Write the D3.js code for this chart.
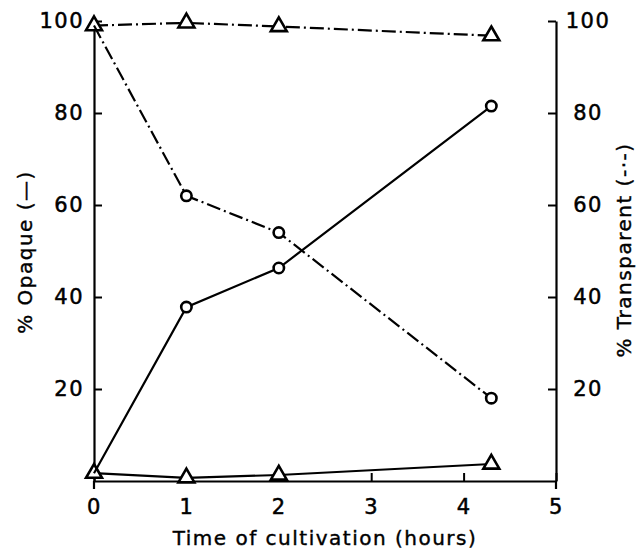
<!DOCTYPE html>
<html>
<head>
<meta charset="utf-8">
<script src="https://cdn.jsdelivr.net/npm/d3@7"></script>
<style>
  body { margin: 0; background: #fff; }
  text { font-family: "DejaVu Sans", sans-serif; fill: #000; }
</style>
</head>
<body>
<div id="content"></div>
<script>
// Data (time in hours, values in %).
var times = [0, 1, 2, 4.3];
var opaqueCircles = [1.7, 37.8, 46.3, 81.5];      // solid line, circles
var opaqueTriangles = [1.7, 0.7, 1.3, 3.7];      // solid line, triangles
var transpCircles = [99, 62, 54, 18];            // dash-dot line, circles
var transpTriangles = [99, 99.6, 98.8, 96.8];    // dash-dot line, triangles
var xTicks = [0, 1, 2, 3, 4, 5];
var yTicks = [20, 40, 60, 80, 100];

var width = 639, height = 550;
var svg = d3.select('#content')
              .append('svg')
              .attr('width', width)
              .attr('height', height);

var x = d3.scaleLinear().domain([0, 5]).range([94, 556]);
var y = d3.scaleLinear().domain([0, 100]).range([481, 21]);

// Axes, ticks pointing inward.
var gx = svg.append('g')
    .attr('transform', 'translate(0,' + y(0) + ')')
    .call(d3.axisBottom(x).tickValues(xTicks).tickSizeInner(-8)
              .tickSizeOuter(0).tickPadding(16).tickFormat(d3.format('d')));

var gl = svg.append('g')
    .attr('transform', 'translate(' + x(0) + ',0)')
    .call(d3.axisLeft(y).tickValues(yTicks).tickSizeInner(-8)
              .tickSizeOuter(0).tickPadding(10));

var gr = svg.append('g')
    .attr('transform', 'translate(' + x(5) + ',0)')
    .call(d3.axisRight(y).tickValues(yTicks).tickSizeInner(-8)
              .tickSizeOuter(0).tickPadding(10));
gr.selectAll('text').attr('text-anchor', 'middle').attr('x', 32);

[gx, gl, gr].forEach(function(g) {
  g.select('.domain').attr('stroke-width', 2.2);
  g.selectAll('.tick line').attr('stroke-width', 2);
  g.selectAll('text').attr('font-size', 21).attr('letter-spacing', 1.5)
      .attr('font-family', '"DejaVu Sans", sans-serif')
      .attr('stroke', '#000').attr('stroke-width', 0.5);
});
gx.selectAll('text').attr('dy', '0.8em');

// Short stubs below the x axis at both ends.
svg.append('path')
    .attr('d', 'M' + x(0) + ',' + y(0) + 'v8M' + x(5) + ',' + y(0) + 'v8')
    .attr('stroke', '#000').attr('stroke-width', 2.2);

var line = d3.line()
    .x(function(d) { return x(d[0]); })
    .y(function(d) { return y(d[1]); });

function series(vals, dashed, marker) {
  var pts = times.map(function(t, i) { return [t, vals[i]]; });
  svg.append('path')
      .attr('d', line(pts))
      .attr('fill', 'none')
      .attr('stroke', '#000')
      .attr('stroke-width', 2.2)
      .attr('stroke-dasharray', dashed ? '14,4,2,4' : null);
  // first point of circle series sits under the triangle at t=0
  var mpts = marker === 'circle' ? pts.slice(1) : pts;
  var sym = marker === 'circle' ? d3.symbolCircle : d3.symbolTriangle;
  svg.selectAll(null)
      .data(mpts)
      .enter()
      .append('path')
      .attr('d', d3.symbol().type(sym).size(marker === 'circle' ? 85 : 110))
      .attr('transform', function(d) {
        return 'translate(' + [ x(d[0]), y(d[1]) ] + ')';
      })
      .attr('fill', '#fff')
      .attr('stroke', '#000')
      .attr('stroke-width', 2.6);
}

series(transpTriangles, true, 'triangle');
series(transpCircles, true, 'circle');
series(opaqueTriangles, false, 'triangle');
series(opaqueCircles, false, 'circle');

// Axis titles.
function title(t) {
  return t.attr('text-anchor', 'middle')
      .attr('font-size', 20)
      .attr('letter-spacing', 1.5)
      .attr('stroke', '#000')
      .attr('stroke-width', 0.4);
}

title(svg.append('text')
    .attr('x', 325).attr('y', 545))
    .text('Time of cultivation (hours)');

title(svg.append('text')
    .attr('transform', 'translate(32,252) rotate(-90)'))
    .text('% Opaque (—)');

title(svg.append('text')
    .attr('transform', 'translate(631,250) rotate(-90)'))
    .text('% Transparent (-·-)');
</script>
</body>
</html>
